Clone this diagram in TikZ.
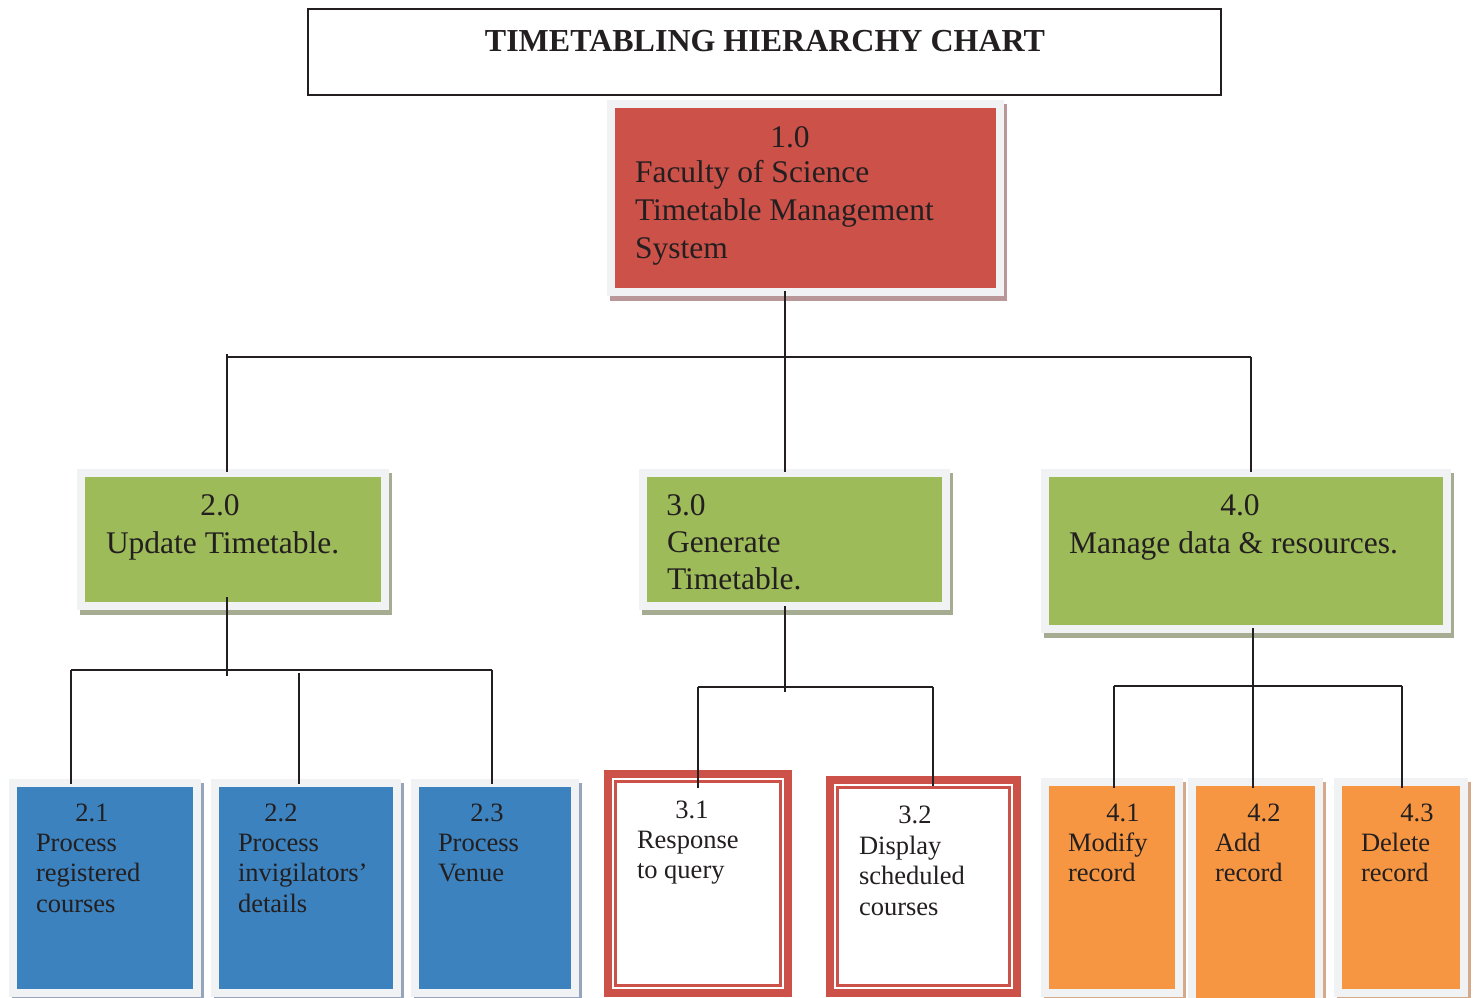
\documentclass[tikz,border=0pt]{standalone}
\usepackage{fontspec}
\setmainfont{Liberation Serif}
\definecolor{ink}{RGB}{35,31,32}
\definecolor{frame}{RGB}{241,242,244}
\definecolor{cred}{RGB}{203,81,73}
\definecolor{credsh}{RGB}{185,150,152}
\definecolor{cgreen}{RGB}{157,187,89}
\definecolor{cgreensh}{RGB}{166,172,145}
\definecolor{cblue}{RGB}{59,130,191}
\definecolor{cbluesh}{RGB}{150,165,185}
\definecolor{corange}{RGB}{246,150,66}
\definecolor{corangesh}{RGB}{212,170,138}
\tikzset{
  every node/.style={text=ink, inner sep=0pt, outer sep=0pt},
  conn/.style={draw=ink, line width=2pt},
  bigtxt/.style={font=\fontsize{31.5}{38}\selectfont},
  midtxt/.style={font=\fontsize{31.5}{37}\selectfont},
  smalltxt/.style={font=\fontsize{26.5}{30.5}\selectfont},
  numlbl/.style={anchor=base},
  % anchor point = baseline of the LAST line
  bodytxt/.style={anchor=base west, align=left},
  redframe/.style={draw=cred, line width=8pt, fill=white},
  redinner/.style={draw=cred, line width=3pt},
}
% #1 name, #2 x1, #3 y1, #4 x2, #5 y2 (inner box), #6 fill, #7 shadow colour
\newcommand\shbox[7]{%
  \fill[#7] ({#2-8+3},{#3-8+4}) rectangle ({#4+8+3},{#5+8+5});
  \fill[frame] ({#2-8},{#3-8}) rectangle ({#4+8},{#5+8});
  \node[fill=#6, minimum width={(#4-#2)*1pt}, minimum height={(#5-#3)*1pt}] (#1) at ({(#2+#4)/2},{(#3+#5)/2}) {};
}
\begin{document}
\begin{tikzpicture}[x=1pt,y=-1pt]
\clip (0,0) rectangle (1475,997);
\fill[white] (0,0) rectangle (1475,997);

% title
\node[draw=ink, line width=1.6pt, minimum width=913pt, minimum height=86pt] (titlebox) at (764.5,52) {};
\node[font=\fontsize{32}{38}\selectfont\bfseries, anchor=base] (title) at (765,51) {TIMETABLING HIERARCHY CHART};

% boxes
\shbox{n10}{615}{108}{996}{288}{cred}{credsh}
\shbox{n20}{85}{477}{381}{602}{cgreen}{cgreensh}
\shbox{n30}{647}{477}{942}{602}{cgreen}{cgreensh}
\shbox{n40}{1049}{477}{1443}{625}{cgreen}{cgreensh}
\shbox{n21}{17}{787}{193}{989}{cblue}{cbluesh}
\shbox{n22}{219}{787}{393}{989}{cblue}{cbluesh}
\shbox{n23}{419}{787}{571}{989}{cblue}{cbluesh}
\shbox{n41}{1049}{786}{1175}{989}{corange}{corangesh}
\shbox{n42}{1196}{786}{1315}{1012}{corange}{corangesh}
\shbox{n43}{1342}{786}{1460}{989}{corange}{corangesh}

\node[redframe, minimum width=180pt, minimum height=219pt] (n31) at (698,883.5) {};
\draw[redinner] (615.5,781.5) rectangle (780.5,985.5);
\node[redframe, minimum width=187pt, minimum height=213pt] (n32) at (923.5,886.5) {};
\draw[redinner] (837.5,787.5) rectangle (1009.5,985.5);

% texts
\node[bigtxt, numlbl] (t10n) at (790,147) {1.0};
\node[bigtxt, bodytxt] (t10) at (635,258) {Faculty of Science\\Timetable Management\\System};
\node[midtxt, numlbl] (t20n) at (220,515) {2.0};
\node[midtxt, bodytxt] (t20) at (106,553) {Update Timetable.};
\node[midtxt, numlbl] (t30n) at (686,515) {3.0};
\node[midtxt, bodytxt] (t30) at (667,589) {Generate\\Timetable.};
\node[midtxt, numlbl] (t40n) at (1240,515) {4.0};
\node[midtxt, bodytxt] (t40) at (1069,553) {Manage data \& resources.};

\node[smalltxt, numlbl] (t21n) at (92,821) {2.1};
\node[smalltxt, bodytxt] (t21) at (36,912) {Process\\registered\\courses};
\node[smalltxt, numlbl] (t22n) at (281,821) {2.2};
\node[smalltxt, bodytxt] (t22) at (238,912) {Process\\invigilators’\\details};
\node[smalltxt, numlbl] (t23n) at (487,821) {2.3};
\node[smalltxt, bodytxt] (t23) at (438,881.5) {Process\\Venue};
\node[smalltxt, numlbl] (t31n) at (692,818) {3.1};
\node[smalltxt, bodytxt] (t31) at (637,878.5) {Response\\to query};
\node[smalltxt, numlbl] (t32n) at (915,823) {3.2};
\node[smalltxt, bodytxt] (t32) at (859,915) {Display\\scheduled\\courses};
\node[smalltxt, numlbl] (t41n) at (1123,821) {4.1};
\node[smalltxt, bodytxt] (t41) at (1068,881.5) {Modify\\record};
\node[smalltxt, numlbl] (t42n) at (1264,821) {4.2};
\node[smalltxt, bodytxt] (t42) at (1215,881.5) {Add\\record};
\node[smalltxt, numlbl] (t43n) at (1417,821) {4.3};
\node[smalltxt, bodytxt] (t43) at (1361,881.5) {Delete\\record};

% connector points
\coordinate (a1) at (785,291);
\coordinate (a2) at (785,472);
\coordinate (h1l) at (227,357);
\coordinate (h1r) at (1251,357);
\coordinate (v20top) at (227,354);
\coordinate (v20bot) at (227,472);
\coordinate (v40bot) at (1251,472);

\coordinate (b1) at (227,597);
\coordinate (b2) at (227,676);
\coordinate (h2l) at (71,670);
\coordinate (h2r) at (492,670);
\coordinate (c21) at (71,784);
\coordinate (c22t) at (299,673);
\coordinate (c22) at (299,784);
\coordinate (c23) at (492,784);

\coordinate (d1) at (785,606);
\coordinate (d2) at (785,692);
\coordinate (h3l) at (698,687);
\coordinate (h3r) at (933,687);
\coordinate (c31) at (698,788);
\coordinate (c32) at (933,786);

\coordinate (e1) at (1253,628);
\coordinate (e2) at (1253,788);
\coordinate (h4l) at (1114,686);
\coordinate (h4r) at (1402,686);
\coordinate (c41) at (1114,788);
\coordinate (c43) at (1402,788);

% connectors
\draw[conn] (a1) -- (a2);
\draw[conn] (h1l) -- (h1r);
\draw[conn] (v20top) -- (v20bot);
\draw[conn] (h1r) -- (v40bot);

\draw[conn] (b1) -- (b2);
\draw[conn] (h2l) -- (h2r);
\draw[conn] (h2l) -- (c21);
\draw[conn] (c22t) -- (c22);
\draw[conn] (h2r) -- (c23);

\draw[conn] (d1) -- (d2);
\draw[conn] (h3l) -- (h3r);
\draw[conn] (h3l) -- (c31);
\draw[conn] (h3r) -- (c32);

\draw[conn, line width=2.6pt] (e1) -- (e2);
\draw[conn] (h4l) -- (h4r);
\draw[conn] (h4l) -- (c41);
\draw[conn] (h4r) -- (c43);
\end{tikzpicture}
\end{document}
